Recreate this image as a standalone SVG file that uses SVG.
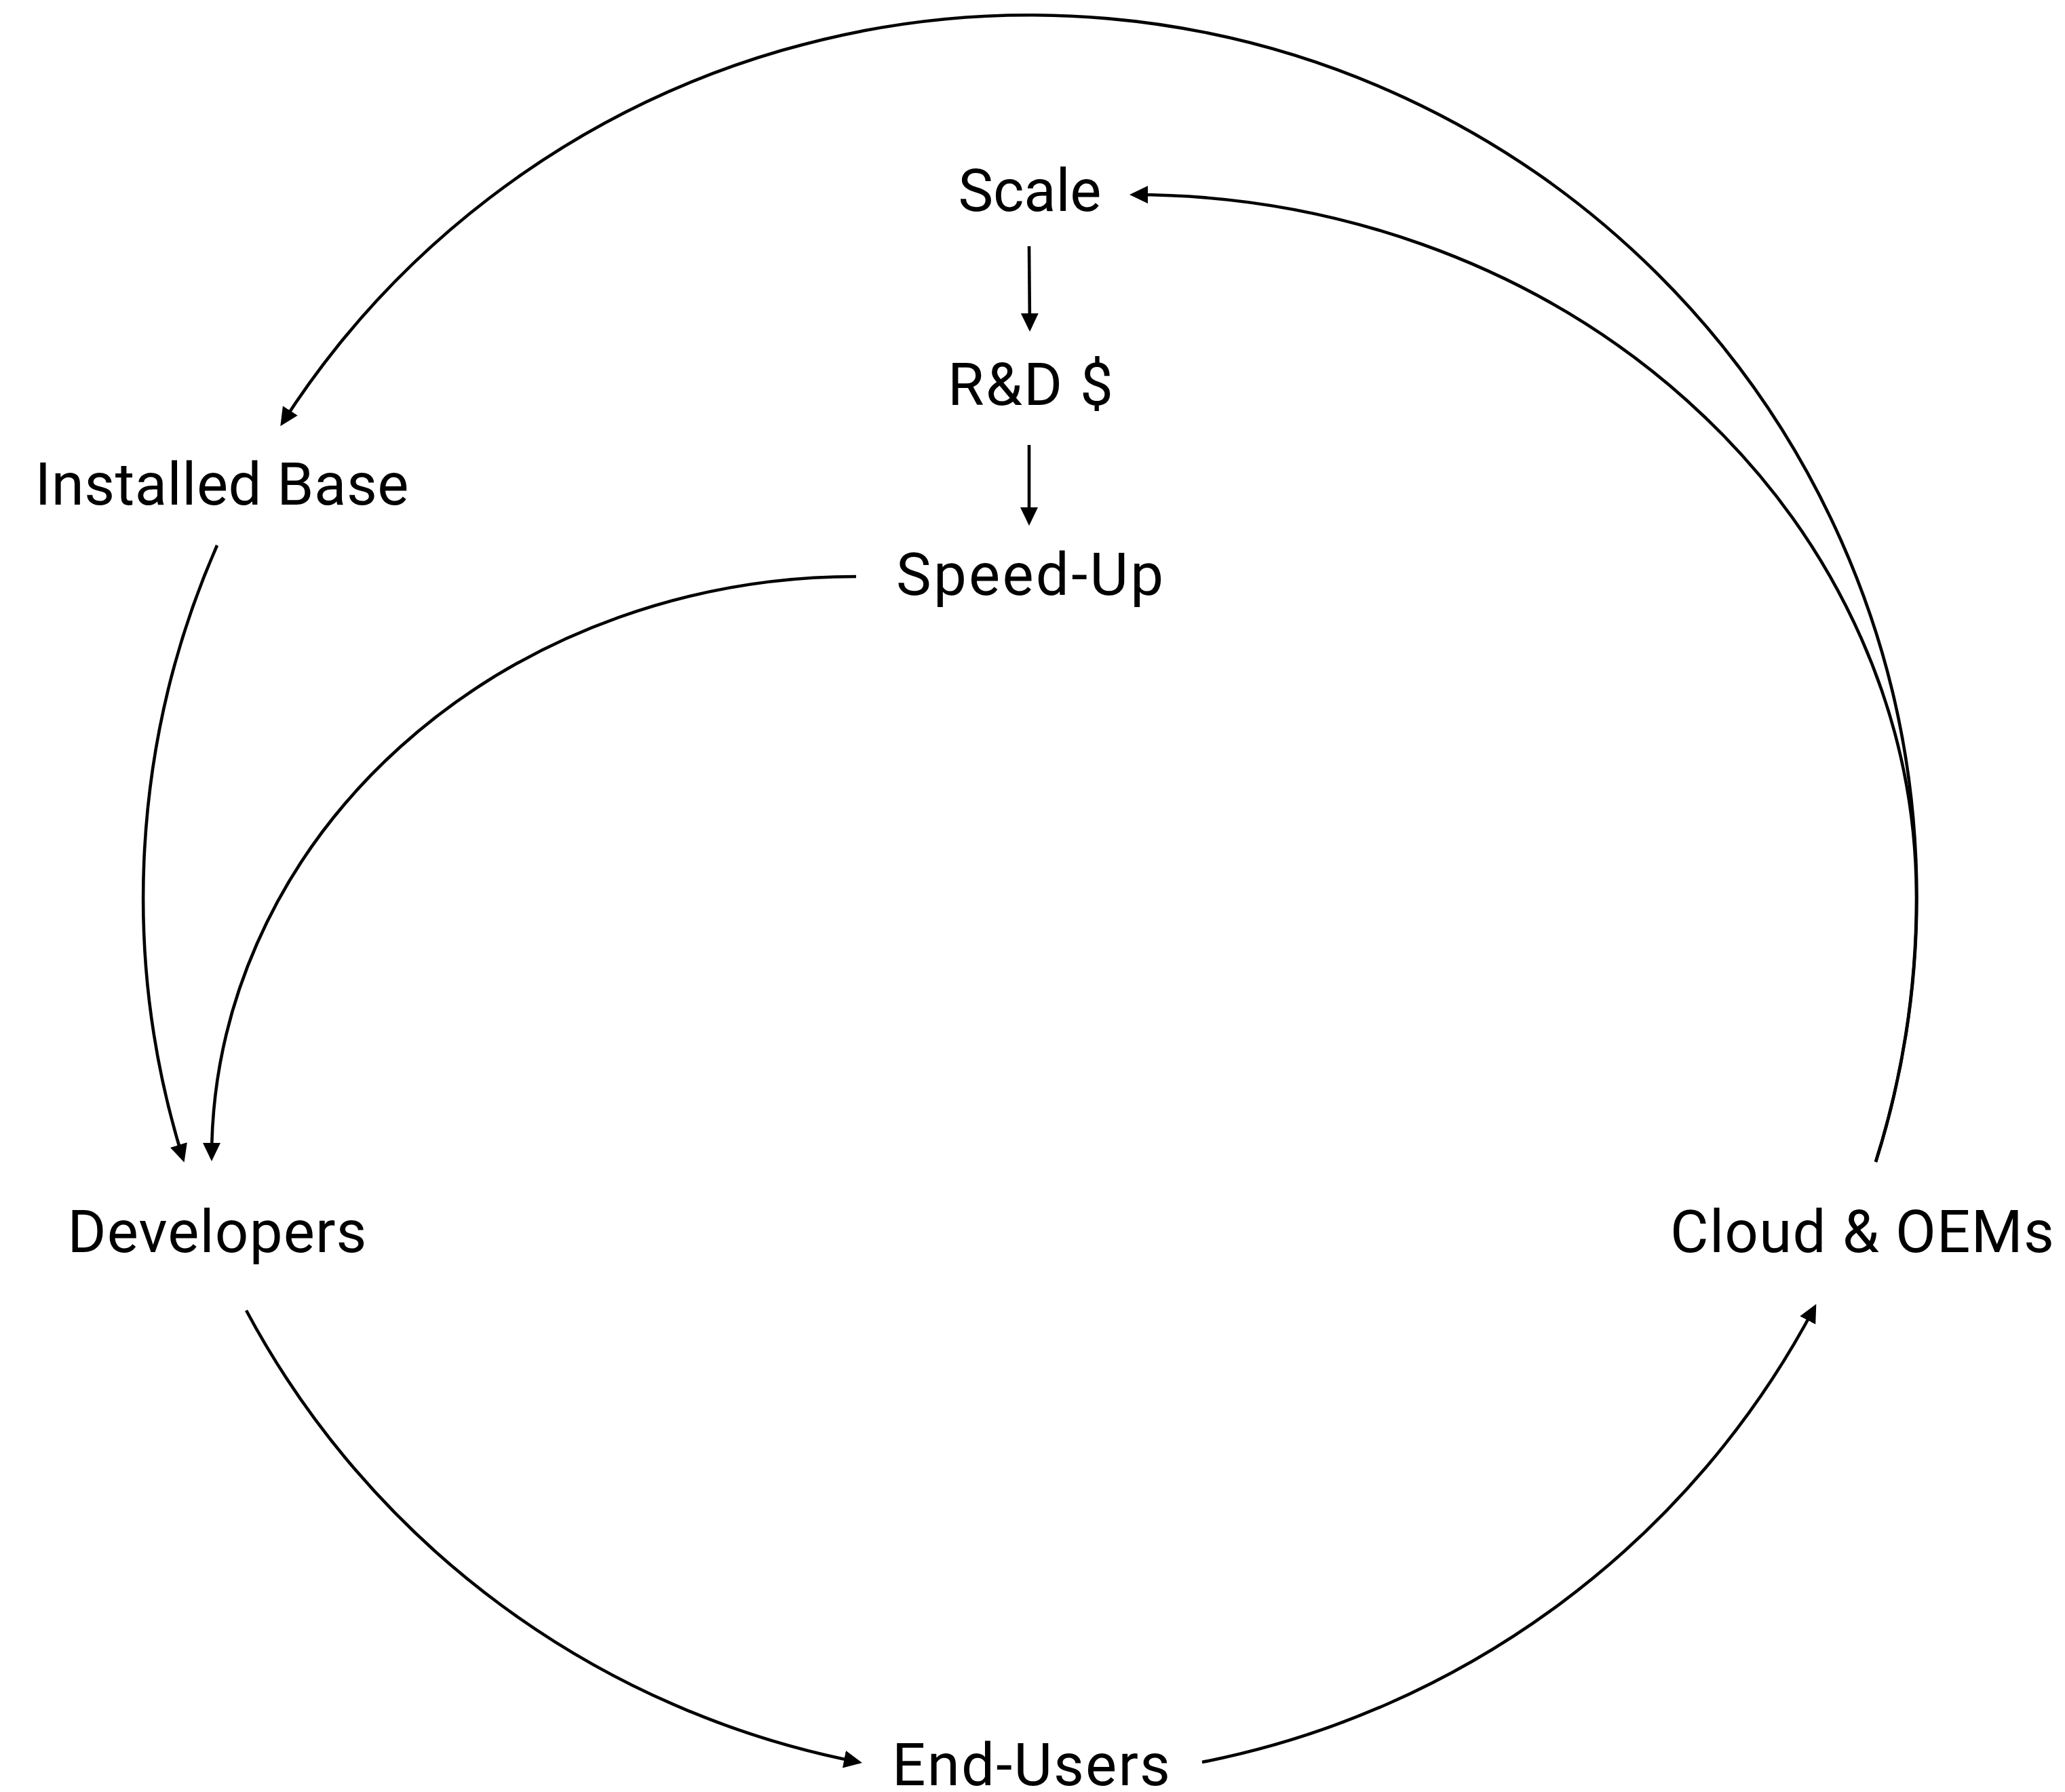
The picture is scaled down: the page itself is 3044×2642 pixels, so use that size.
<svg xmlns="http://www.w3.org/2000/svg" width="3044" height="2642" viewBox="0 0 3044 2642">
<style>
.lbl{font-family:Roboto,"Liberation Sans",sans-serif;font-size:87px;fill:#000;text-anchor:middle}
.edge{fill:none;stroke:#000;stroke-width:4.6}
</style>
<defs>
<marker id="arr" markerUnits="userSpaceOnUse" markerWidth="27" markerHeight="27" viewBox="0 0 27 26" refX="22" refY="13" orient="auto">
<path d="M0,0 L27,13 L0,26 z" fill="#000"/>
</marker>
</defs>
<rect width="3044" height="2642" fill="#fff"/>
<g id="connectors">
<path id="e-cloud-installed" class="edge" marker-end="url(#arr)" d="M2765,1713 A1307,1300 0 0 0 416,624"/>
<path id="e-installed-dev" class="edge" marker-end="url(#arr)" d="M320,804 A1307,1300 0 0 0 270,1709"/>
<path id="e-dev-end" class="edge" marker-end="url(#arr)" d="M363,1932 A1307,1300 0 0 0 1266,2598"/>
<path id="e-end-cloud" class="edge" marker-end="url(#arr)" d="M1772,2598 A1307,1300 0 0 0 2675,1927"/>
<path id="e-cloud-scale" class="edge" marker-end="url(#arr)" d="M2765,1713 A1307,1300 0 0 0 2825,1323 A1155,1036 0 0 0 1670,287"/>
<path id="e-scale-rd" class="edge" marker-end="url(#arr)" d="M1517,363 L1518,484"/>
<path id="e-rd-speed" class="edge" marker-end="url(#arr)" d="M1517,656 L1517,770"/>
<path id="e-speed-dev" class="edge" marker-end="url(#arr)" d="M1262,850 A950,857 0 0 0 312,1707"/>
</g>
<g id="node-scale"><text class="lbl" x="1518" y="311" textLength="211">Scale</text></g>
<g id="node-rd"><text class="lbl" x="1519" y="597" textLength="244">R&amp;D $</text></g>
<g id="node-speedup"><text class="lbl" x="1518" y="877" textLength="394">Speed-Up</text></g>
<g id="node-installed"><text class="lbl" x="327" y="744" textLength="551">Installed Base</text></g>
<g id="node-developers"><text class="lbl" x="320" y="1846" textLength="441">Developers</text></g>
<g id="node-cloud"><text class="lbl" x="2745" y="1846" textLength="566">Cloud &amp; OEMs</text></g>
<g id="node-endusers"><text class="lbl" x="1520" y="2632" textLength="410">End-Users</text></g>
</svg>
